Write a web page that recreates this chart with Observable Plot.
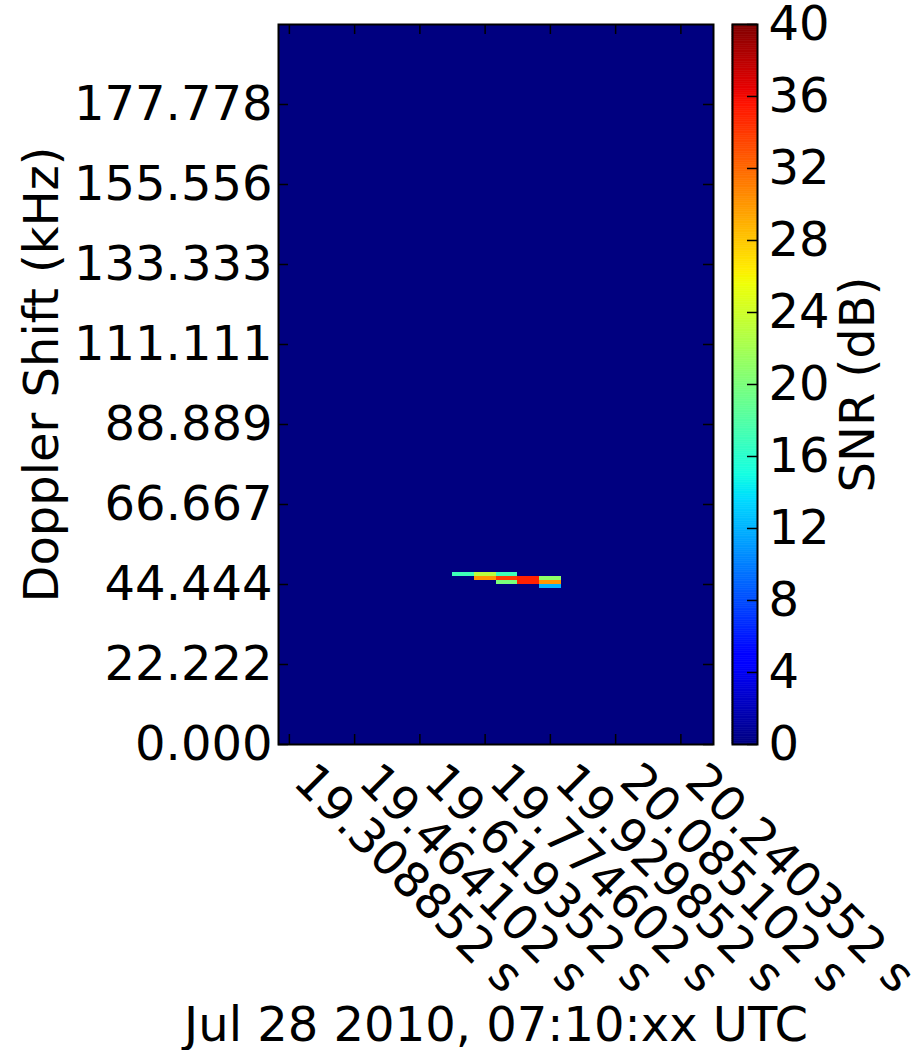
<!DOCTYPE html>
<html><head><meta charset="utf-8">
<script src="https://cdn.jsdelivr.net/npm/d3@7"></script>
<script src="https://cdn.jsdelivr.net/npm/@observablehq/plot@0.6"></script>
<style>
html,body{margin:0;padding:0;background:#fff;}
#wrap{position:relative;width:922px;height:1050px;}
#wrap svg{position:absolute;left:0;top:0;}
</style></head><body><div id="wrap"></div>
<script>
// ---- data ----
const timeTicks = [19.308852, 19.464102, 19.619352, 19.774602, 19.929852, 20.085102, 20.240352];
const freqTicks = [0, 22.222, 44.444, 66.667, 88.889, 111.111, 133.333, 155.556, 177.778];
const snrTicks = [0, 4, 8, 12, 16, 20, 24, 28, 32, 36, 40];
const timeDomain = [19.282977, 20.317977];   // s (within 07:10)
const freqDomain = [0, 200];                 // kHz
const snrDomain = [0, 40];                   // dB
const timeBin = 0.05175;                     // s
const freqBin = 1.1111;                      // kHz
// non-zero cells: bin centre time, bin lower frequency, SNR
const cellTime = [19.722852, 19.774602, 19.774602, 19.826352, 19.826352, 19.826352, 19.878102, 19.878102, 19.929852, 19.929852, 19.929852];
const cellFreq = [46.667, 46.667, 45.556, 46.667, 45.556, 44.444, 45.556, 44.444, 45.556, 44.444, 43.333];
const cellSnr  = [17, 23, 30, 17, 34, 20, 35, 35, 21, 30, 12];
const xTitle = "Jul 28 2010, 07:10:xx UTC";
const yTitle = "Doppler Shift (kHz)";
const cTitle = "SNR (dB)";

const cells = cellTime.map((t, i) => ({t, f: cellFreq[i], snr: cellSnr[i]}));

// matplotlib "jet" colormap (segment data)
const jetR = [[0, 0], [0.35, 0], [0.66, 1], [0.89, 1], [1, 0.5]];
const jetG = [[0, 0], [0.125, 0], [0.375, 1], [0.64, 1], [0.91, 0], [1, 0]];
const jetB = [[0, 0.5], [0.11, 1], [0.34, 1], [0.65, 0], [1, 0]];
function seg(s, t) {
  for (let i = 1; i < s.length; i++) {
    if (t <= s[i][0]) {
      const [x0, y0] = s[i - 1], [x1, y1] = s[i];
      return y0 + (y1 - y0) * (t - x0) / (x1 - x0);
    }
  }
  return s[s.length - 1][1];
}
function jet(t) {
  t = Math.max(0, Math.min(1, t));
  return d3.rgb(seg(jetR, t) * 255, seg(jetG, t) * 255, seg(jetB, t) * 255).toString();
}
const colorOpts = {type: "linear", domain: snrDomain, interpolate: jet};
const FS = 48;
const style = {fontFamily: "DejaVu Sans", fontSize: FS + "px", background: "transparent", color: "black", overflow: "visible"};

const main = Plot.plot({
  width: 922, height: 1050,
  marginLeft: 278, marginRight: 209, marginTop: 24, marginBottom: 306,
  style,
  x: {domain: timeDomain, axis: null},
  y: {domain: freqDomain, axis: null},
  color: colorOpts,
  marks: [
    Plot.rect([0], {x1: () => timeDomain[0], x2: () => timeDomain[1], y1: () => freqDomain[0], y2: () => freqDomain[1], fill: d => d}),
    Plot.rect(cells, {x1: d => d.t - timeBin / 2, x2: d => d.t + timeBin / 2, y1: d => d.f, y2: d => d.f + freqBin, fill: "snr", shapeRendering: "crispEdges"}),
    Plot.ruleX(timeTicks, {x: d => d, insetTop: 710, stroke: "black", strokeWidth: 1.5}),
    Plot.ruleX(timeTicks, {x: d => d, insetBottom: 710, stroke: "black", strokeWidth: 1.5}),
    Plot.ruleY(freqTicks, {y: d => d, insetRight: 425, stroke: "black", strokeWidth: 1.5}),
    Plot.ruleY(freqTicks, {y: d => d, insetLeft: 425, stroke: "black", strokeWidth: 1.5}),
    Plot.frame({stroke: "black", strokeWidth: 2}),
    Plot.text(timeTicks, {x: d => d, frameAnchor: "bottom", text: d => d.toFixed(6) + " s", rotate: 45, textAnchor: "start", lineAnchor: "bottom", dx: 2, dy: 39, fontSize: FS, fill: "black"}),
    Plot.text(freqTicks, {y: d => d, frameAnchor: "left", text: d => d.toFixed(3), textAnchor: "end", lineAnchor: "middle", dx: -6, fontSize: FS, fill: "black"}),
    Plot.text([yTitle], {frameAnchor: "left", text: d => d, rotate: -90, textAnchor: "middle", lineAnchor: "middle", dx: -236, dy: -10, fontSize: FS, fill: "black"}),
    Plot.text([xTitle], {frameAnchor: "bottom", text: d => d, textAnchor: "middle", lineAnchor: "middle", dy: 281, fontSize: FS, fill: "black"})
  ]
});

const steps = d3.range(0, 40, 0.1);
const cbar = Plot.plot({
  width: 922, height: 1050,
  marginLeft: 732, marginRight: 165, marginTop: 24, marginBottom: 306,
  style,
  x: {domain: [0, 1], axis: null},
  y: {domain: snrDomain, axis: null},
  color: colorOpts,
  marks: [
    Plot.rect(steps, {x1: () => 0, x2: () => 1, y1: d => d, y2: d => d + 0.1, fill: d => d + 0.05, stroke: d => d + 0.05, strokeWidth: 0.6}),
    Plot.ruleY(snrTicks, {y: d => d, insetLeft: 15, stroke: "black", strokeWidth: 1.5}),
    Plot.frame({stroke: "black", strokeWidth: 2}),
    Plot.text(snrTicks, {y: d => d, frameAnchor: "right", text: d => String(d), textAnchor: "start", lineAnchor: "middle", dx: 11, fontSize: FS, fill: "black"}),
    Plot.text([cTitle], {frameAnchor: "right", text: d => d, rotate: -90, textAnchor: "middle", lineAnchor: "middle", dx: 101, fontSize: FS, fill: "black"})
  ]
});

const wrap = document.getElementById("wrap");
wrap.appendChild(main);
wrap.appendChild(cbar);
</script></body></html>
